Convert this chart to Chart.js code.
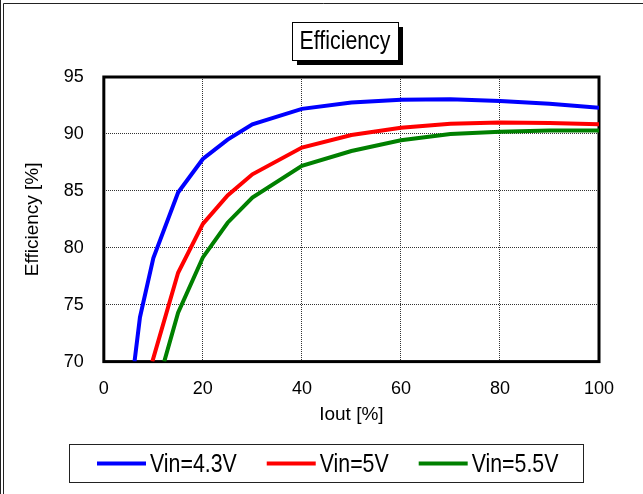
<!DOCTYPE html>
<html>
<head>
<meta charset="utf-8">
<script src="https://cdn.jsdelivr.net/npm/chart.js@4.4.1/dist/chart.umd.min.js"></script>
<style>
  html, body { margin: 0; padding: 0; background: #fff; }
  #wrap { width: 643px; height: 494px; }
</style>
</head>
<body>
<div id="wrap"><canvas id="effChart" width="643" height="494"></canvas></div>
<script>
const FONT = "'Liberation Sans', Arial, sans-serif";
const SQUEEZE = 0.82; // the original uses a narrow face

const chartTitle = 'Efficiency';
const xTitle = 'Iout [%]';
const yTitle = 'Efficiency [%]';

const seriesNames = ['Vin=4.3V', 'Vin=5V', 'Vin=5.5V'];
const seriesColors = ['#0000FF', '#FF0000', '#008000'];

const iout43 = [6.2, 7.3, 10, 15, 20, 25, 30, 40, 50, 60, 70, 80, 90, 100];
const eff43  = [70, 73.9, 79.1, 84.85, 87.8, 89.5, 90.85, 92.2, 92.75, 93.0, 93.05, 92.9, 92.65, 92.3];

const iout50 = [9.8, 15, 20, 25, 30, 40, 50, 60, 70, 80, 90, 100];
const eff50  = [70, 77.8, 82.1, 84.6, 86.45, 88.8, 89.9, 90.55, 90.9, 91.0, 90.95, 90.85];

const iout55 = [12.2, 15, 20, 25, 30, 40, 50, 60, 70, 80, 90, 100];
const eff55  = [70, 74.3, 79.15, 82.2, 84.4, 87.2, 88.5, 89.45, 90.0, 90.2, 90.3, 90.3];

const xTicks = [0, 20, 40, 60, 80, 100];
const yTicks = [70, 75, 80, 85, 90, 95];

function pts(xs, ys) {
  return xs.map((x, i) => ({ x: x, y: ys[i] }));
}

const seriesData = [pts(iout43, eff43), pts(iout50, eff50), pts(iout55, eff55)];

// narrow text: draw squeezed horizontally, x is the left edge
function narrowText(ctx, txt, x, y) {
  ctx.save();
  ctx.translate(x, y);
  ctx.scale(SQUEEZE, 1);
  ctx.fillText(txt, 0, 0);
  ctx.restore();
  return ctx.measureText(txt).width * SQUEEZE;
}

// title box, plot frame, legend box and page border
const decor = {
  id: 'decor',
  beforeDatasetsDraw(chart) {
    const a = chart.chartArea;
    const ctx = chart.ctx;
    ctx.save();
    ctx.strokeStyle = '#000';
    ctx.lineWidth = 3;
    ctx.strokeRect(a.left, a.top, a.right - a.left, a.bottom - a.top);
    ctx.restore();
  },
  afterDraw(chart) {
    const ctx = chart.ctx;
    ctx.save();

    // page border
    ctx.strokeStyle = '#222';
    ctx.lineWidth = 1;
    ctx.beginPath();
    ctx.moveTo(0.5, 0); ctx.lineTo(0.5, 494);
    ctx.moveTo(3.5, 494); ctx.lineTo(3.5, 3.5); ctx.lineTo(643, 3.5);
    ctx.stroke();

    // title with shadow box
    ctx.font = '26px ' + FONT;
    ctx.textAlign = 'left';
    ctx.textBaseline = 'middle';
    const tw = ctx.measureText(chartTitle).width * SQUEEZE;
    const bx = 292, by = 22, bw = 106, bh = 38;
    ctx.fillStyle = '#000';
    ctx.fillRect(bx + 5, by + 5, bw, bh);
    ctx.fillStyle = '#fff';
    ctx.fillRect(bx, by, bw, bh);
    ctx.strokeStyle = '#000';
    ctx.lineWidth = 1;
    ctx.strokeRect(bx + 0.5, by + 0.5, bw, bh);
    ctx.fillStyle = '#000';
    narrowText(ctx, chartTitle, bx + (bw - tw) / 2, by + bh / 2 + 1);

    // legend box
    ctx.strokeStyle = '#222';
    ctx.strokeRect(69.5, 444.5, 514, 38);
    ctx.font = '26px ' + FONT;
    let x = 97;
    const ly = 463.5;
    chart.data.datasets.forEach(ds => {
      ctx.strokeStyle = ds.borderColor;
      ctx.lineWidth = 4;
      ctx.beginPath();
      ctx.moveTo(x, ly); ctx.lineTo(x + 49, ly);
      ctx.stroke();
      ctx.fillStyle = '#000';
      const w = narrowText(ctx, ds.label, x + 53, ly + 1);
      x += 53 + w + 30;
    });
    ctx.restore();
  }
};

new Chart(document.getElementById('effChart'), {
  type: 'line',
  data: {
    datasets: seriesNames.map((name, i) => ({
      label: name,
      data: seriesData[i],
      borderColor: seriesColors[i],
      backgroundColor: seriesColors[i],
      borderWidth: 4,
      pointRadius: 0,
      tension: 0
    }))
  },
  options: {
    responsive: false,
    animation: false,
    layout: { padding: { top: 77, right: 44, bottom: 68, left: 10 } },
    plugins: {
      legend: { display: false },
      title: { display: false },
      tooltip: { enabled: false }
    },
    scales: {
      x: {
        type: 'linear',
        min: 0,
        max: 100,
        afterBuildTicks: s => { s.ticks = xTicks.map(v => ({ value: v })); },
        ticks: { color: '#000', font: { family: FONT, size: 18 }, padding: 17 },
        grid: { color: '#333', lineWidth: 1, drawTicks: false },
        border: { display: false, dash: [1, 1] },
        title: { display: true, text: xTitle, color: '#000', font: { family: FONT, size: 19 }, padding: { top: -14, bottom: 0 } }
      },
      y: {
        min: 70,
        max: 95,
        afterBuildTicks: s => { s.ticks = yTicks.map(v => ({ value: v })); },
        ticks: { color: '#000', font: { family: FONT, size: 18 }, padding: 20 },
        grid: { color: '#333', lineWidth: 1, drawTicks: false },
        border: { display: false, dash: [1, 1] },
        title: { display: true, text: yTitle, color: '#000', font: { family: FONT, size: 19 }, padding: { top: 11, bottom: 0 } }
      }
    }
  },
  plugins: [decor]
});
</script>
</body>
</html>
